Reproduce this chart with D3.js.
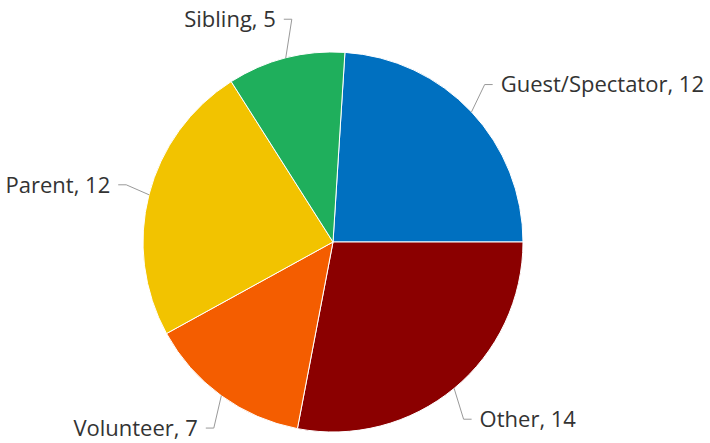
<!DOCTYPE html>
<html><head><meta charset="utf-8">
<script src="https://cdn.jsdelivr.net/npm/d3@7"></script>
<style>html,body{margin:0;padding:0;background:#fff;}svg{display:block;}</style>
</head><body>
<svg id="c" width="710" height="443"></svg>
<script>
const categories = ["Guest/Spectator", "Other", "Volunteer", "Parent", "Sibling"];
const values = [12, 14, 7, 12, 5];
const colors = ["#0070C0", "#8B0000", "#F45D00", "#F2C300", "#1FAF5C"];

const W = 710, H = 443, cx = 333, cy = 242, r = 190, labelR = 230;
const total = d3.sum(values);
const start = Math.PI / 2 - (values[0] / total) * 2 * Math.PI;

const svg = d3.select("#c");
const data = categories.map((c, i) => ({name: c, value: values[i], color: colors[i]}));
const pie = d3.pie().value(d => d.value).sort(null).startAngle(start).endAngle(start + 2 * Math.PI);
const arcs = pie(data);
const arc = d3.arc().innerRadius(0).outerRadius(r);

const g = svg.append("g").attr("transform", `translate(${cx},${cy})`);
g.selectAll("path.slice").data(arcs).enter().append("path")
  .attr("class", "slice")
  .attr("d", arc)
  .attr("fill", d => d.data.color)
  .attr("stroke", "#fff").attr("stroke-width", 1).attr("stroke-linejoin", "round");

arcs.forEach(d => {
  const a = (d.startAngle + d.endAngle) / 2;
  const px = r * Math.sin(a), py = -r * Math.cos(a);
  const lx = labelR * Math.sin(a), ly = -labelR * Math.cos(a);
  const right = lx > 0;
  const s = right ? -1 : 1;
  g.append("path")
    .attr("d", `M${lx + s * 8},${ly}L${lx + s * 16},${ly}L${px},${py}`)
    .attr("fill", "none").attr("stroke", "#999").attr("stroke-width", 1);
  g.append("text")
    .attr("x", lx).attr("y", ly)
    .attr("dy", "0.35em")
    .attr("text-anchor", right ? "start" : "end")
    .attr("font-family", "'Open Sans', sans-serif")
    .attr("font-size", 22)
    .attr("fill", "#333")
    .text(`${d.data.name}, ${d.data.value}`);
});
</script>
</body></html>
